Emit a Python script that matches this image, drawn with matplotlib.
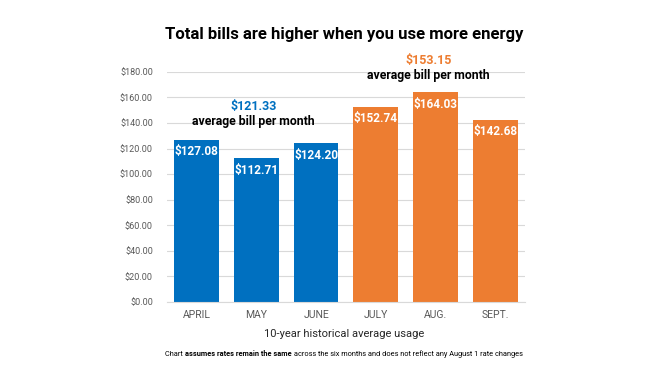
import matplotlib
matplotlib.use("Agg")
import matplotlib.pyplot as plt
from matplotlib.ticker import FuncFormatter

months = ["APRIL", "MAY", "JUNE", "JULY", "AUG.", "SEPT."]
bills = [127.08, 112.71, 124.20, 152.74, 164.03, 142.68]
seasons = ["spring", "spring", "spring", "summer", "summer", "summer"]
avg_spring = 121.33
avg_summer = 153.15

blue = "#0070C0"
orange = "#ED7D31"
colors = [blue if s == "spring" else orange for s in seasons]

plt.rcParams["font.family"] = ["Roboto", "DejaVu Sans"]

fig = plt.figure(figsize=(6.49, 3.65), dpi=100)
ax = fig.add_axes([0.257, 0.173, 0.552, 0.630])

x = range(len(months))
bars = ax.bar(x, bills, width=0.75, color=colors, zorder=2)

for i, v in enumerate(bills):
    ax.text(i, v - 4.5, f"${v:.2f}", ha="center", va="top", color="white",
            fontsize=8.5, fontweight="bold", zorder=3)

ax.set_ylim(0, 180)
ax.set_xlim(-0.5, 5.5)
ax.set_yticks(range(0, 181, 20))
ax.yaxis.set_major_formatter(FuncFormatter(lambda v, p: f"${v:,.2f}"))
ax.grid(axis="y", color="#d9d9d9", linewidth=0.8, zorder=0)
for s in ["top", "right", "left"]:
    ax.spines[s].set_visible(False)
ax.spines["bottom"].set_color("#d9d9d9")
ax.tick_params(axis="y", length=0, labelsize=6.5, labelcolor="#595959", pad=10)
ax.tick_params(axis="x", length=0, labelsize=7.5, labelcolor="#595959", pad=6)
ax.set_xticks(list(x))
ax.set_xticklabels(months)

# average annotations
ax.text(0.95, 153, f"${avg_spring:.2f}", ha="center", va="center", color=blue,
        fontsize=9, fontweight="bold")
ax.text(0.95, 141, "average bill per month", ha="center", va="center",
        color="black", fontsize=8.8, fontweight="bold")
ax.text(3.88, 189, f"${avg_summer:.2f}", ha="center", va="center", color=orange,
        fontsize=9, fontweight="bold", clip_on=False)
ax.text(3.88, 177, "average bill per month", ha="center", va="center",
        color="black", fontsize=8.8, fontweight="bold", clip_on=False)

fig.text(0.53, 1 - 35 / 365, "Total bills are higher when you use more energy",
         ha="center", va="center", fontsize=12, fontweight="bold", color="black")
fig.text(0.53, 1 - 334 / 365, "10-year historical average usage",
         ha="center", va="center", fontsize=8, color="#262626")

# footnote with bold part
parts = [("Chart ", "normal"), ("assumes rates remain the same", "bold"),
         (" across the six months and does not reflect any August 1 rate changes", "normal")]
fig.canvas.draw()
r = fig.canvas.get_renderer()
widths = []
for t, w in parts:
    tmp = fig.text(0, 0, t, fontsize=5.3, fontweight=w)
    widths.append(tmp.get_window_extent(r).width)
    tmp.remove()
total = sum(widths)
start = 344 - total / 2
fy = 1 - 354 / 365
for (t, w), wd in zip(parts, widths):
    fig.text(start / 649, fy, t, fontsize=5.3, fontweight=w, ha="left",
             va="center", color="black")
    start += wd

fig.savefig("out.png", dpi=100)
